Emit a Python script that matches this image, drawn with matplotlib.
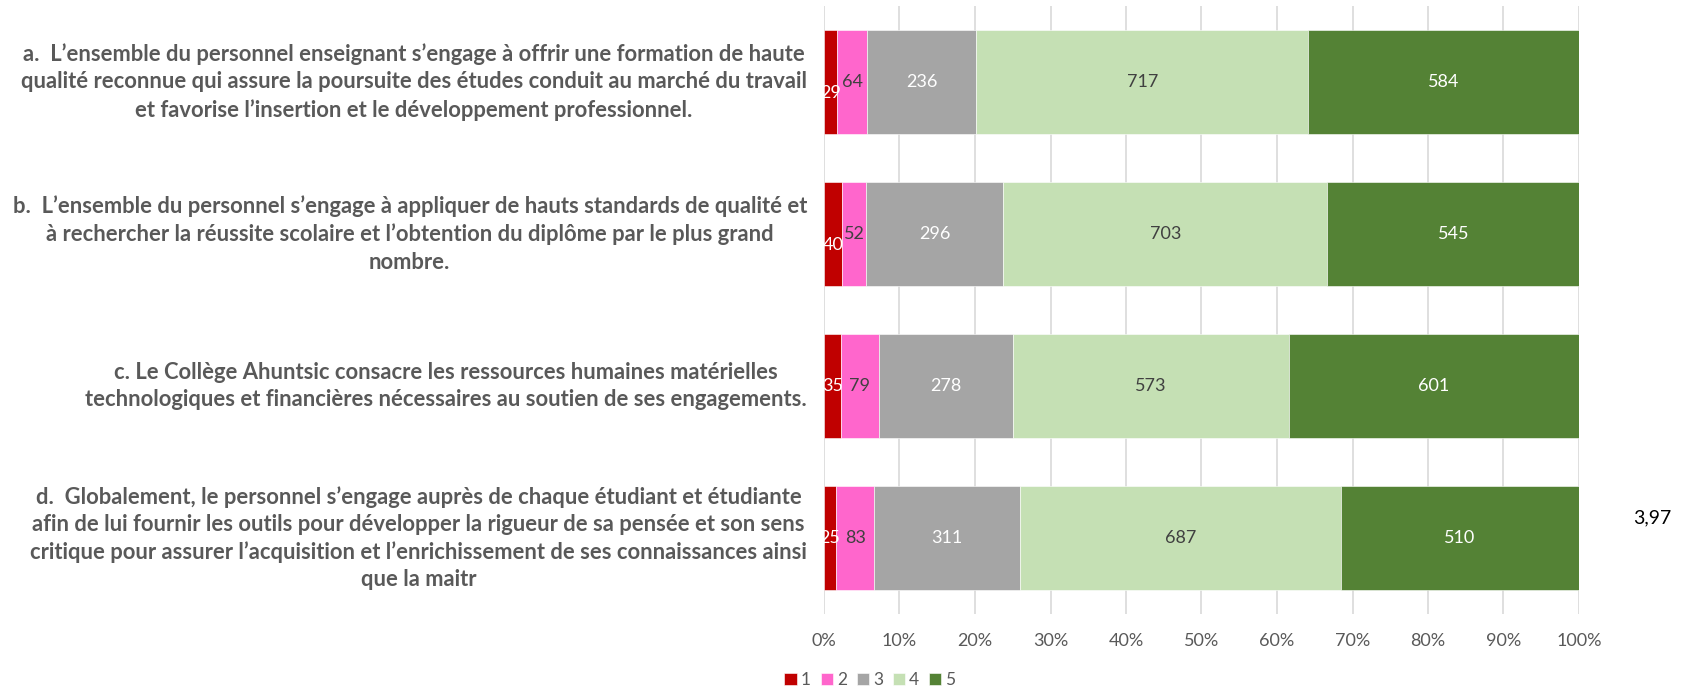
import matplotlib
matplotlib.use("Agg")
import matplotlib.pyplot as plt
import numpy as np
from matplotlib.ticker import PercentFormatter

categories = [
    "a.  L\u2019ensemble du personnel enseignant s\u2019engage \u00e0 offrir une formation de haute\nqualit\u00e9 reconnue qui assure la poursuite des \u00e9tudes conduit au march\u00e9 du travail\net favorise l\u2019insertion et le d\u00e9veloppement professionnel.",
    "b.  L\u2019ensemble du personnel s\u2019engage \u00e0 appliquer de hauts standards de qualit\u00e9 et\n\u00e0 rechercher la r\u00e9ussite scolaire et l\u2019obtention du dipl\u00f4me par le plus grand\nnombre.",
    "c. Le Coll\u00e8ge Ahuntsic consacre les ressources humaines mat\u00e9rielles\ntechnologiques et financi\u00e8res n\u00e9cessaires au soutien de ses engagements.",
    "d.  Globalement, le personnel s\u2019engage aupr\u00e8s de chaque \u00e9tudiant et \u00e9tudiante\nafin de lui fournir les outils pour d\u00e9velopper la rigueur de sa pens\u00e9e et son sens\ncritique pour assurer l\u2019acquisition et l\u2019enrichissement de ses connaissances ainsi\nque la maitr",
]
series_names = ["1", "2", "3", "4", "5"]
s1 = [29, 40, 35, 25]
s2 = [64, 52, 79, 83]
s3 = [236, 296, 278, 311]
s4 = [717, 703, 573, 687]
s5 = [584, 545, 601, 510]
side_note = "3,97"

colors = ["#C00000", "#FF66CC", "#A5A5A5", "#C5E0B4", "#548235"]
label_colors = ["white", "#404040", "white", "#404040", "white"]
first_label_dy = [-11, -11, 0, 0]  # pixel offsets for series 1 labels

counts = np.array([s1, s2, s3, s4, s5], dtype=float)
totals = counts.sum(axis=0)
shares = counts / totals

W, H = 1683, 691
fig = plt.figure(figsize=(W / 100, H / 100), dpi=100)
ax = fig.add_axes([824 / W, 1 - 614 / H, (1579 - 824) / W, (614 - 6) / H])

fontfam = ["Lato", "DejaVu Sans"]
ypos = np.arange(len(categories))
left = np.zeros(len(categories))
for i in range(5):
    bars = ax.barh(ypos, shares[i], left=left, height=0.69, color=colors[i],
                   edgecolor="white", linewidth=0.4, label=series_names[i], zorder=3)
    for j, b in enumerate(bars):
        cx = left[j] + shares[i][j] / 2
        dy = first_label_dy[j] if i == 0 else 0
        ax.annotate(f"{int(counts[i][j])}", (cx, ypos[j]), xytext=(0, dy),
                    textcoords="offset pixels", ha="center", va="center",
                    color=label_colors[i], fontsize=13, family=fontfam, zorder=5)
    left += shares[i]

ax.set_xlim(0, 1)
ax.set_ylim(len(categories) - 0.5, -0.5)
ax.xaxis.set_major_formatter(PercentFormatter(1.0, decimals=0))
ax.set_xticks(np.linspace(0, 1, 11))
ax.grid(axis="x", color="#D9D9D9", linewidth=1.2, zorder=0)
for sp in ax.spines.values():
    sp.set_visible(False)
ax.tick_params(axis="x", length=0, pad=14, labelsize=13, labelcolor="#595959")
for t in ax.get_xticklabels():
    t.set_family(fontfam)
ax.set_yticks(ypos)
ax.set_yticklabels([])
ax.tick_params(axis="y", length=0)

cat_texts = []
for j, c in enumerate(categories):
    t = ax.annotate(c, (0, ypos[j]), xytext=(-17, 0), textcoords="offset pixels",
                    ha="right", va="center", multialignment="center",
                    fontsize=15, fontweight="bold", color="#595959",
                    family=fontfam, linespacing=1.36, annotation_clip=False)
    cat_texts.append(t)

# fit the label font size so the widest label matches the reference width
fig.canvas.draw()
r = fig.canvas.get_renderer()
widest = max(t.get_window_extent(r).width for t in cat_texts)
new_size = 15 * 797 / widest
for t in cat_texts:
    t.set_fontsize(new_size)

fig.text(1652 / W, 1 - 518 / H, side_note, ha="center", va="center",
         fontsize=14, color="black", family=fontfam)

leg = fig.legend(loc="center", bbox_to_anchor=(870 / W, 1 - 680 / H), ncol=5,
                 frameon=False, handlelength=0.7, handleheight=0.7,
                 handletextpad=0.25, columnspacing=0.55,
                 prop={"family": fontfam, "size": 12.5})
for t in leg.get_texts():
    t.set_color("#595959")

fig.savefig("out.png", dpi=100)
